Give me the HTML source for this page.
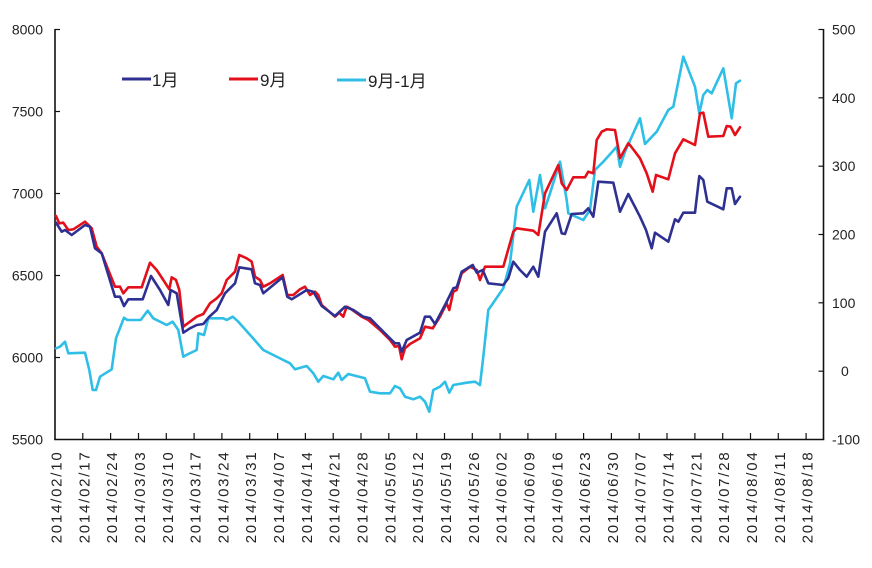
<!DOCTYPE html>
<html><head><meta charset="utf-8"><style>
html,body{margin:0;padding:0;background:#fff;}
svg{display:block;}
text{font-family:"Liberation Sans","Noto Sans CJK SC",sans-serif;fill:#222;}
</style></head><body>
<svg width="872" height="568" viewBox="0 0 872 568" xmlns="http://www.w3.org/2000/svg">
<rect width="872" height="568" fill="#fff"/>
<!-- axes -->
<g stroke="#111" stroke-width="1.6" fill="none">
<line x1="55" y1="29" x2="55" y2="439.5"/>
<line x1="823.5" y1="29" x2="823.5" y2="439.5"/>
<line x1="54.2" y1="439.5" x2="824.3" y2="439.5"/>
</g>
<g stroke="#111" stroke-width="1.2">
<line x1="55" y1="29.5" x2="60" y2="29.5"/>
<line x1="55" y1="111.5" x2="60" y2="111.5"/>
<line x1="55" y1="193.5" x2="60" y2="193.5"/>
<line x1="55" y1="275.5" x2="60" y2="275.5"/>
<line x1="55" y1="357.5" x2="60" y2="357.5"/>
<line x1="818.5" y1="29.5" x2="823.5" y2="29.5"/>
<line x1="818.5" y1="97.8" x2="823.5" y2="97.8"/>
<line x1="818.5" y1="166.2" x2="823.5" y2="166.2"/>
<line x1="818.5" y1="234.5" x2="823.5" y2="234.5"/>
<line x1="818.5" y1="302.8" x2="823.5" y2="302.8"/>
<line x1="818.5" y1="371.2" x2="823.5" y2="371.2"/>
</g>
<g stroke="#111" stroke-width="1.2" id="xt"></g>
<!-- left labels -->
<g font-size="14" text-anchor="end">
<text x="43" y="34.5">8000</text>
<text x="43" y="116.5">7500</text>
<text x="43" y="198.5">7000</text>
<text x="43" y="280.5">6500</text>
<text x="43" y="362.5">6000</text>
<text x="43" y="444.5">5500</text>
</g>
<g font-size="14" text-anchor="start">
<text x="832" y="34.5">500</text>
<text x="832" y="102.8">400</text>
<text x="832" y="171.2">300</text>
<text x="832" y="239.5">200</text>
<text x="832" y="307.8">100</text>
<text x="841" y="376.2">0</text>
<text x="832" y="444.5">-100</text>
</g>
<g id="xl" font-size="15"></g>
<!-- legend -->
<g stroke-width="3">
<line x1="122" y1="79" x2="151" y2="79" stroke="#2e3192"/>
<line x1="229" y1="79" x2="258" y2="79" stroke="#e3101b"/>
<line x1="337" y1="80" x2="366" y2="80" stroke="#2fbfe6"/>
</g>
<g font-size="17">
<text x="152" y="86">1月</text>
<text x="260" y="86">9月</text>
<text x="368" y="87">9月-1月</text>
</g>
<!-- series -->
<g fill="none" stroke-width="2.6" stroke-linejoin="round" stroke-linecap="round">
<polyline stroke="#2fbfe6" points="56,348.3 60,346.7 65,341.7 68.3,353.3 85,352.7 89.3,370 92.7,390 96,390 100,376.7 111.7,369.3 116,338.3 124,317.7 127.3,320 140.7,320 147.7,310.7 153.3,318.3 166.7,325 172.7,321.7 178.3,330 183.3,356.7 188.3,354 196.7,350 198.3,333.3 204,335 208.3,318.3 223.3,318.3 226.7,320 232.7,316.7 238.3,321.7 251.7,336.7 263.3,350 283.3,360 290,363.3 295,369.3 306.7,366 313.3,373.3 318.3,381.7 323.3,376 333.3,379.3 338.3,372.7 341.7,380 348.3,374 365,378.3 370,391.7 380,393.3 390,393.3 395,386 400,388.3 405,396.7 413.3,399.3 420,396.7 425,401.7 429.3,411.7 433.3,390 440,386.7 445,381.7 449.3,392.7 453.3,385 466.7,382.7 475,381.7 480,385 483.3,356.7 488.3,310 503.3,288.3 510,263.3 516.7,206.7 529.3,180 533.3,211.7 540,175 545,208.3 550,193.3 560,161.7 566.7,200 568.3,213.3 583.3,220 590,210 595,170 603.3,161.7 616.7,146.7 620,166.7 625,151.7 640,118.3 645,144 656.7,131.7 668.3,110 673.3,106.7 683.3,56.7 695,86.7 699.3,113.3 703.3,95 707.3,90 711.7,93.3 723.3,68.3 731.7,118.3 736,83.3 740,80.7"/>
<polyline stroke="#e3101b" points="56,216 59.3,223.3 63.3,222.7 68.3,230 73.3,229.3 85,221.7 91.7,228.3 96.7,246.7 101.7,253.3 108.3,270 115,286.7 120,286.7 123.3,293.3 128.3,287.3 141.7,287.3 150,262.7 156.7,270 163.3,280 169.3,289.3 171.7,277.3 176,280 179.3,290 183.3,326.7 190,321.7 196.7,316.7 203.3,314 210,303.3 216.7,298.3 221.7,293.3 226.7,280 235,271.7 239.3,255 246.7,258.3 251.7,261.7 255,276.7 260,280 263.3,286.7 270,283.3 282.7,275 287.3,295 293.3,295 300,289.3 305,286.7 310,295 315,291.7 318.3,295 321.7,305 335,316.7 339.3,312.7 343.3,316.7 346.7,306.7 350,308.3 361.7,316.7 368.3,320 380,330 390,340 395,346.7 399,346 401.7,359.3 405,348.3 410,344 420,338.3 425,326.7 432.7,328.3 440,316.7 446.7,303.3 449.3,310 453.3,291.7 456.7,290 461.7,273.3 470,266.7 476.7,270 480,280 485,266.7 503.3,266.7 513.3,231.7 516.7,228.3 533.3,230.7 538.3,235 545,193.3 558.3,165 561.7,183.3 566.7,190 573.3,177.3 585,177.3 588.3,171.7 593.3,173.3 596.7,140 601.7,131.7 606.7,129.3 615,130 620,158.3 628.3,143.3 630.7,146 640,158.3 646.7,173.3 652.7,191.7 656,175 668.3,179.3 675,153.3 683.3,139.3 695,145 700,113.3 703.3,112.7 708.3,136.7 723.3,136 726.7,126 730.7,126.7 735,135 740,127.3"/>
<polyline stroke="#2e3192" points="56,222.7 61.7,231.7 65,230 71.7,235 85,225 90,226.7 95,248.3 101.7,253.3 115,296.7 120,296.7 124,306 128.3,299.3 142.7,299.3 151,276 160,290 168.3,305 170.7,290 176.7,293.3 183.3,332.7 190,328.3 196.7,325 203.3,324 209.3,316.7 216.7,310 225,293.3 235,283.3 239.3,267.3 251.7,269.3 255,283.3 260,285 263.3,293.3 282.7,277.3 287.3,296.7 291.7,299.3 306.7,290 313.3,291.7 321.7,306 335,316 345,306.7 353.3,310 363.3,316.7 370,318.3 376.7,325 388.3,336.7 395,343.3 399,343.3 401.7,351.7 406.7,340 420,332.7 425,316.7 430,316.7 435,324 446.7,301.7 453.3,288.3 456.7,287.3 461.7,271.7 472.7,265 476.7,272.7 482.7,270 488.3,283.3 503.3,285 508.3,278.3 513.3,261.7 520,270 526.7,276.7 533.3,266.7 538.3,276.7 545,231.7 556.7,213.3 561.7,233.3 565,234 571.7,214 583.3,213.3 588.3,208.3 593.3,216.7 598.3,181.7 613.3,182.7 620,211.7 628.3,194 640,216.7 646,230 651.7,248.3 655,232.7 668.3,241.7 675,219.3 678.3,221.7 683.3,212.7 695,212.7 699.3,176 703.3,180 707.3,201.7 723.3,209.3 726.7,188.3 731.7,188.3 735,204 740,196.7"/>
</g>
<g font-size="15">
<text transform="translate(61.5,543.3) rotate(-90)" textLength="91" lengthAdjust="spacing">2014/02/10</text>
<text transform="translate(89.3,543.3) rotate(-90)" textLength="91" lengthAdjust="spacing">2014/02/17</text>
<text transform="translate(117.1,543.3) rotate(-90)" textLength="91" lengthAdjust="spacing">2014/02/24</text>
<text transform="translate(145,543.3) rotate(-90)" textLength="91" lengthAdjust="spacing">2014/03/03</text>
<text transform="translate(172.8,543.3) rotate(-90)" textLength="91" lengthAdjust="spacing">2014/03/10</text>
<text transform="translate(200.6,543.3) rotate(-90)" textLength="91" lengthAdjust="spacing">2014/03/17</text>
<text transform="translate(228.4,543.3) rotate(-90)" textLength="91" lengthAdjust="spacing">2014/03/24</text>
<text transform="translate(256.2,543.3) rotate(-90)" textLength="91" lengthAdjust="spacing">2014/03/31</text>
<text transform="translate(284.1,543.3) rotate(-90)" textLength="91" lengthAdjust="spacing">2014/04/07</text>
<text transform="translate(311.9,543.3) rotate(-90)" textLength="91" lengthAdjust="spacing">2014/04/14</text>
<text transform="translate(339.7,543.3) rotate(-90)" textLength="91" lengthAdjust="spacing">2014/04/21</text>
<text transform="translate(367.5,543.3) rotate(-90)" textLength="91" lengthAdjust="spacing">2014/04/28</text>
<text transform="translate(395.3,543.3) rotate(-90)" textLength="91" lengthAdjust="spacing">2014/05/05</text>
<text transform="translate(423.2,543.3) rotate(-90)" textLength="91" lengthAdjust="spacing">2014/05/12</text>
<text transform="translate(451,543.3) rotate(-90)" textLength="91" lengthAdjust="spacing">2014/05/19</text>
<text transform="translate(478.8,543.3) rotate(-90)" textLength="91" lengthAdjust="spacing">2014/05/26</text>
<text transform="translate(506.6,543.3) rotate(-90)" textLength="91" lengthAdjust="spacing">2014/06/02</text>
<text transform="translate(534.4,543.3) rotate(-90)" textLength="91" lengthAdjust="spacing">2014/06/09</text>
<text transform="translate(562.3,543.3) rotate(-90)" textLength="91" lengthAdjust="spacing">2014/06/16</text>
<text transform="translate(590.1,543.3) rotate(-90)" textLength="91" lengthAdjust="spacing">2014/06/23</text>
<text transform="translate(617.9,543.3) rotate(-90)" textLength="91" lengthAdjust="spacing">2014/06/30</text>
<text transform="translate(645.7,543.3) rotate(-90)" textLength="91" lengthAdjust="spacing">2014/07/07</text>
<text transform="translate(673.5,543.3) rotate(-90)" textLength="91" lengthAdjust="spacing">2014/07/14</text>
<text transform="translate(701.4,543.3) rotate(-90)" textLength="91" lengthAdjust="spacing">2014/07/21</text>
<text transform="translate(729.2,543.3) rotate(-90)" textLength="91" lengthAdjust="spacing">2014/07/28</text>
<text transform="translate(757,543.3) rotate(-90)" textLength="91" lengthAdjust="spacing">2014/08/04</text>
<text transform="translate(784.8,543.3) rotate(-90)" textLength="91" lengthAdjust="spacing">2014/08/11</text>
<text transform="translate(812.6,543.3) rotate(-90)" textLength="91" lengthAdjust="spacing">2014/08/18</text>
</g>
<g stroke="#111" stroke-width="1.2">
<line x1="82.8" y1="439.5" x2="82.8" y2="433"/>
<line x1="110.6" y1="439.5" x2="110.6" y2="433"/>
<line x1="138.5" y1="439.5" x2="138.5" y2="433"/>
<line x1="166.3" y1="439.5" x2="166.3" y2="433"/>
<line x1="194.1" y1="439.5" x2="194.1" y2="433"/>
<line x1="221.9" y1="439.5" x2="221.9" y2="433"/>
<line x1="249.7" y1="439.5" x2="249.7" y2="433"/>
<line x1="277.6" y1="439.5" x2="277.6" y2="433"/>
<line x1="305.4" y1="439.5" x2="305.4" y2="433"/>
<line x1="333.2" y1="439.5" x2="333.2" y2="433"/>
<line x1="361" y1="439.5" x2="361" y2="433"/>
<line x1="388.8" y1="439.5" x2="388.8" y2="433"/>
<line x1="416.7" y1="439.5" x2="416.7" y2="433"/>
<line x1="444.5" y1="439.5" x2="444.5" y2="433"/>
<line x1="472.3" y1="439.5" x2="472.3" y2="433"/>
<line x1="500.1" y1="439.5" x2="500.1" y2="433"/>
<line x1="527.9" y1="439.5" x2="527.9" y2="433"/>
<line x1="555.8" y1="439.5" x2="555.8" y2="433"/>
<line x1="583.6" y1="439.5" x2="583.6" y2="433"/>
<line x1="611.4" y1="439.5" x2="611.4" y2="433"/>
<line x1="639.2" y1="439.5" x2="639.2" y2="433"/>
<line x1="667" y1="439.5" x2="667" y2="433"/>
<line x1="694.9" y1="439.5" x2="694.9" y2="433"/>
<line x1="722.7" y1="439.5" x2="722.7" y2="433"/>
<line x1="750.5" y1="439.5" x2="750.5" y2="433"/>
<line x1="778.3" y1="439.5" x2="778.3" y2="433"/>
<line x1="806.1" y1="439.5" x2="806.1" y2="433"/>
</g>
</svg>
</body></html>
